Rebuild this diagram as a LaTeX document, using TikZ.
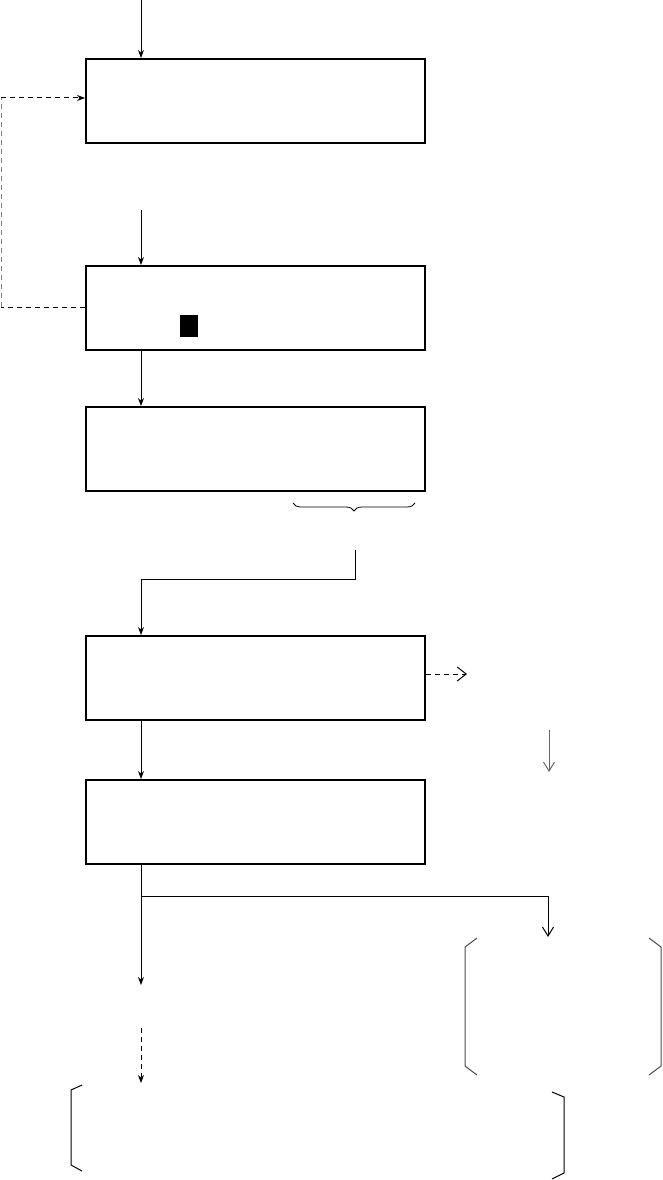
\documentclass[tikz,border=0pt]{standalone}
\usetikzlibrary{arrows.meta,decorations.pathreplacing}
\begin{document}
\begin{tikzpicture}[x=1pt,y=-1pt,
  box/.style={draw,line width=2pt,minimum width=339pt,minimum height=84pt,inner sep=0pt,anchor=north west},
  arr/.style={line width=1pt,-{Stealth[length=8pt,width=6pt]}},
  varr/.style={line width=1pt,-{Straight Barb[length=9pt,width=11pt]}},
  dsh/.style={line width=1pt,dash pattern=on 5pt off 4pt},
  brk/.style={line width=1pt}]
\useasboundingbox (0,0) rectangle (662,1180);
\node[box] (b1) at (85,58) {};
\node[box] (b2) at (85,265) {};
\node[box] (b3) at (85,406) {};
\node[box] (b4) at (85,635) {};
\node[box] (b5) at (85,779) {};
\fill (180,315) rectangle (198,337);
\coordinate (t0) at (141,0);
\coordinate (t2) at (141,210);
\draw[arr] (t0) -- (t0 |- b1.north);
\draw[arr] (t2) -- (t2 |- b2.north);
\draw[arr] (b2.south -| t0) -- (b3.north -| t0);
\draw[arr] (b4.south -| t0) -- (b5.north -| t0);
% dashed feedback
\coordinate (dl) at (1,307);
\coordinate (du) at (1,98);
\draw[dsh] (b2.west |- dl) -- (dl);
\draw[dsh,gray] (dl) -- (du);
\draw[dsh,-{Stealth[length=8pt,width=6pt]}] (du) -- (b1.west |- du);
% brace
\coordinate (brl) at (293,503);
\coordinate (brr) at (415,503);
\draw[line width=0.8pt,decorate,decoration={brace,mirror,amplitude=8pt}] (brl) -- (brr);
\coordinate (c1) at (355,550);
\coordinate (c2) at (355,579);
\draw[line width=1pt,-{Stealth[length=8pt,width=6pt]}] (c1) -- (c2) -- (c2 -| t0) -- (b4.north -| t0);
% dashed right arrow
\coordinate (dr) at (467,674);
\draw[dsh,-{Straight Barb[length=9pt,width=14pt]}] (b4.east |- dr) -- (dr);
% gray arrow
\coordinate (g1) at (549,730);
\coordinate (g2) at (549,772);
\draw[varr,gray!80!black] (g1) -- (g2);
% branch
\coordinate (s1) at (141,985);
\coordinate (h1) at (141,896);
\coordinate (h2) at (548,896);
\coordinate (h3) at (548,937);
\draw[line width=1pt] (b5.south -| t0) -- (h1);
\draw[arr] (h1) -- (s1);
\draw[varr] (h1) -- (h2) -- (h3);
% dashed down arrow
\coordinate (e1) at (141,1028);
\coordinate (e2) at (141,1083);
\draw[dsh,-{Stealth[length=8pt,width=6pt]}] (e1) -- (e2);
% right brackets group
\draw[brk,gray!60!black] (477,938) -- (465,947) -- (465,1066) -- (477,1075);
\draw[brk,gray!60!black] (649,938) -- (661,947) -- (661,1066) -- (649,1075);
% bottom brackets
\draw[brk] (82,1085) -- (71,1090) -- (71,1165) -- (82,1171);
\draw[brk] (552,1092) -- (564,1097) -- (564,1173) -- (552,1179);
\end{tikzpicture}
\end{document}
